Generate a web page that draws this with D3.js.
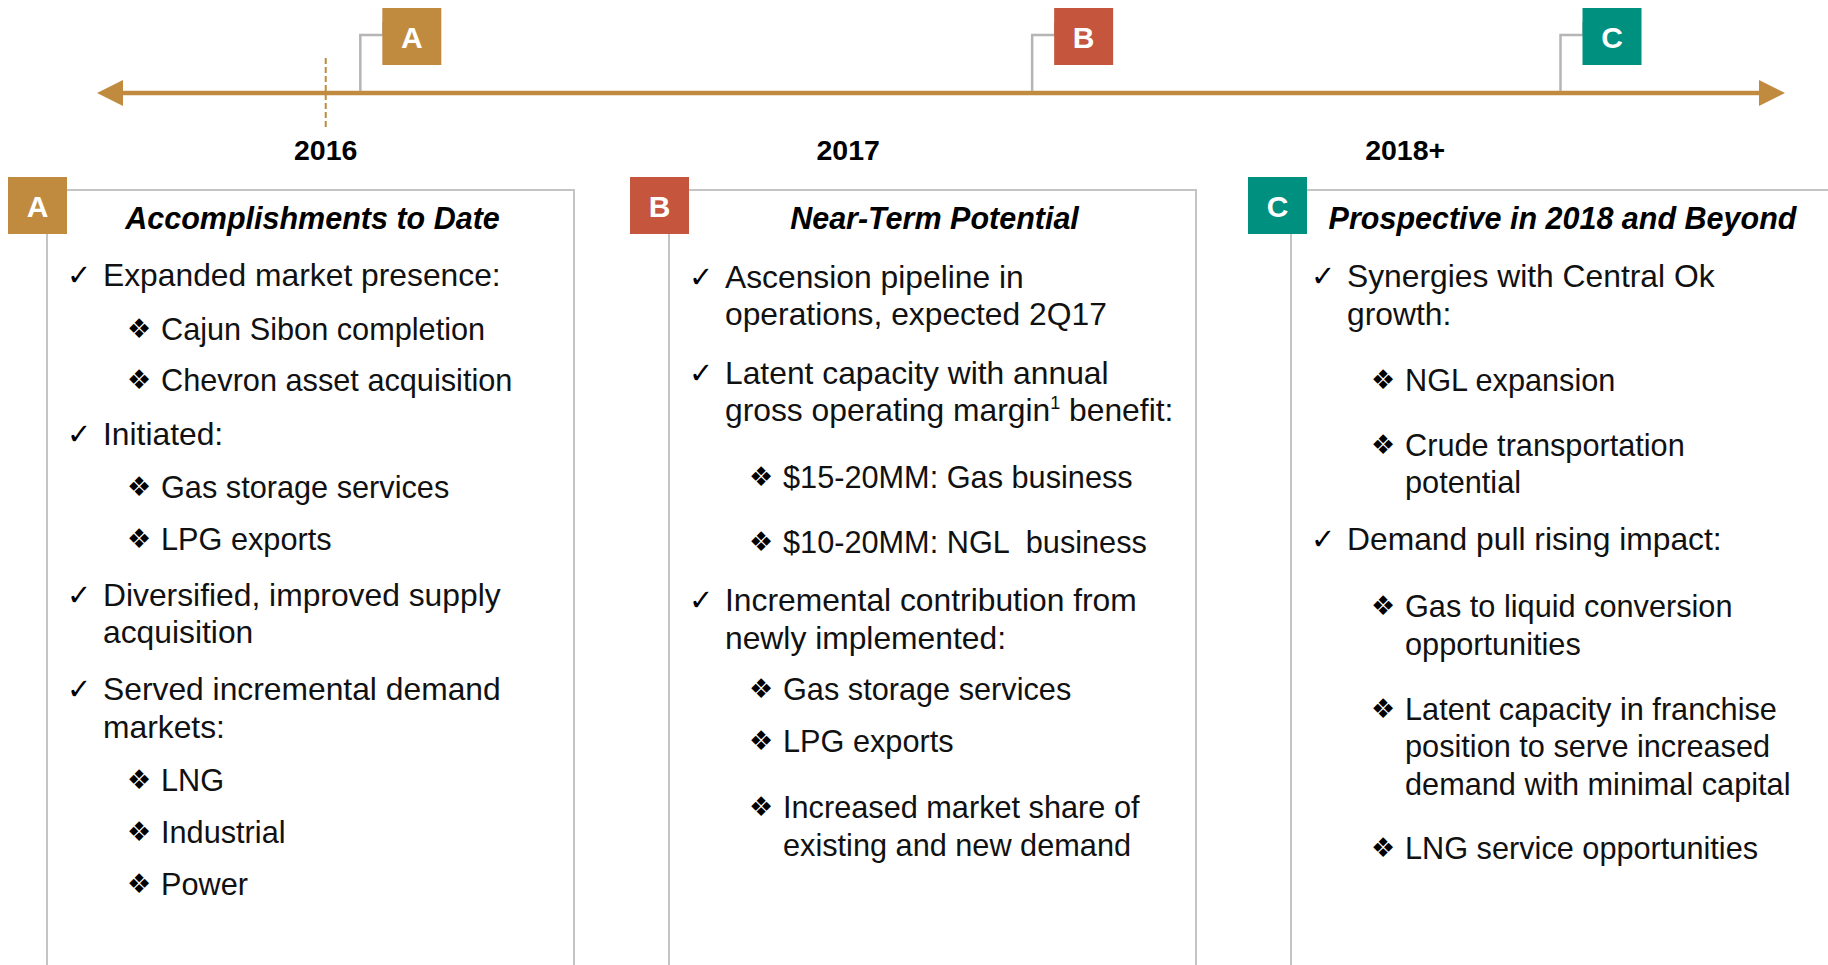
<!DOCTYPE html>
<html>
<head>
<meta charset="utf-8">
<script src="https://cdn.jsdelivr.net/npm/d3@7"></script>
<style>
  body { margin: 0; background: #fff; }
  svg { display: block; }
  text { font-family: "Liberation Sans", Arial, sans-serif; }
</style>
</head>
<body>
<div id="vis"></div>
<script>
// timeline content (positions along the arrow are in % of its length)
const phases = ["A", "B", "C"];
const phaseTitles = ["Accomplishments to Date", "Near-Term Potential", "Prospective in 2018 and Beyond"];
const yearLabels = ["2016", "2017", "2018+"];
const yearAt = [13.55, 44.5, 77.5];
const markerAt = [15.6, 55.4, 86.7];
const todayAt = 13.55;

// panel bullets: level 1 = check, level 2 = diamond; row = line slot in the panel
const itemsA = [
  { level: 1, row: 0, lines: ["Expanded market presence:"] },
  { level: 2, row: 1.44, lines: ["Cajun Sibon completion"] },
  { level: 2, row: 2.8, lines: ["Chevron asset acquisition"] },
  { level: 1, row: 4.24, lines: ["Initiated:"] },
  { level: 2, row: 5.65, lines: ["Gas storage services"] },
  { level: 2, row: 7.04, lines: ["LPG exports"] },
  { level: 1, row: 8.53, lines: ["Diversified, improved supply", "acquisition"] },
  { level: 1, row: 11.04, lines: ["Served incremental demand", "markets:"] },
  { level: 2, row: 13.47, lines: ["LNG"] },
  { level: 2, row: 14.85, lines: ["Industrial"] },
  { level: 2, row: 16.24, lines: ["Power"] }
];
const itemsB = [
  { level: 1, row: 0.05, lines: ["Ascension pipeline in", "operations, expected 2Q17"] },
  { level: 1, row: 2.61, lines: ["Latent capacity with annual", "gross operating margin^1 benefit:"] },
  { level: 2, row: 5.39, lines: ["$15-20MM: Gas business"] },
  { level: 2, row: 7.12, lines: ["$10-20MM: NGL  business"] },
  { level: 1, row: 8.67, lines: ["Incremental contribution from", "newly implemented:"] },
  { level: 2, row: 11.04, lines: ["Gas storage services"] },
  { level: 2, row: 12.43, lines: ["LPG exports"] },
  { level: 2, row: 14.19, lines: ["Increased market share of", "existing and new demand"] }
];
const itemsC = [
  { level: 1, row: 0.03, lines: ["Synergies with Central Ok", "growth:"] },
  { level: 2, row: 2.8, lines: ["NGL expansion"] },
  { level: 2, row: 4.53, lines: ["Crude transportation", "potential"] },
  { level: 1, row: 7.04, lines: ["Demand pull rising impact:"] },
  { level: 2, row: 8.83, lines: ["Gas to liquid conversion", "opportunities"] },
  { level: 2, row: 11.57, lines: ["Latent capacity in franchise", "position to serve increased", "demand with minimal capital"] },
  { level: 2, row: 15.28, lines: ["LNG service opportunities"] }
];
const panelItems = [itemsA, itemsB, itemsC];

const colors = { A: "#C08B3F", B: "#C5553D", C: "#00907F" };
const gold = "#C08B3F";
const grey = "#C4C4C4";

const width = 1828, height = 965;
const svg = d3.select("#vis").append("svg")
  .attr("width", width)
  .attr("height", height)
  .attr("viewBox", `0 0 ${width} ${height}`);

// scales
const x = d3.scaleLinear().domain([0, 100]).range([97, 1785]);
const panelX = d3.scaleBand().domain(phases).range([47, 1818]).paddingInner(95 / 622);
const rowY = d3.scaleLinear().domain([0, 1]).range([286, 323.5]);

// Timeline arrow
const lineY = 93;
svg.append("line")
  .attr("x1", x(0) + 20).attr("x2", x(100) - 20)
  .attr("y1", lineY).attr("y2", lineY)
  .attr("stroke", gold).attr("stroke-width", 4.5);
svg.append("path")
  .attr("d", `M${x(0)},${lineY} L${x(0) + 26},${lineY - 13} L${x(0) + 26},${lineY + 13} Z`)
  .attr("fill", gold);
svg.append("path")
  .attr("d", `M${x(100)},${lineY} L${x(100) - 26},${lineY - 13} L${x(100) - 26},${lineY + 13} Z`)
  .attr("fill", gold);

// today marker
svg.append("line")
  .attr("x1", x(todayAt)).attr("x2", x(todayAt))
  .attr("y1", 58).attr("y2", 127)
  .attr("stroke", gold).attr("stroke-width", 2)
  .attr("stroke-dasharray", "6,3");

// year labels
svg.selectAll(".year")
  .data(yearLabels)
  .join("text")
  .attr("class", "year")
  .attr("x", (d, i) => x(yearAt[i]))
  .attr("y", 160)
  .attr("text-anchor", "middle")
  .style("font-size", "28.5px")
  .style("font-weight", "bold")
  .attr("fill", "#000")
  .text(d => d);

// top markers with elbow connectors
phases.forEach((p, i) => {
  const mx = x(markerAt[i]);
  svg.append("path")
    .attr("d", `M${mx},${lineY - 2} V35 H${mx + 23} V22`)
    .attr("fill", "none")
    .attr("stroke", "#B5B5B5")
    .attr("stroke-width", 2.5);
  svg.append("rect")
    .attr("x", mx + 22).attr("y", 8)
    .attr("width", 59).attr("height", 57)
    .attr("fill", colors[p]);
  svg.append("text")
    .attr("x", mx + 22 + 29.5).attr("y", 48)
    .attr("text-anchor", "middle")
    .attr("fill", "#fff")
    .style("font-size", "30px")
    .style("font-weight", "bold")
    .text(p);
});

// Panels
phases.forEach((p, i) => {
  const left = panelX(p);
  const last = i === phases.length - 1;
  const right = last ? width + 5 : left + panelX.bandwidth();
  const frameTop = 190;
  const g = svg.append("g");

  g.append("path")
    .attr("d", last
      ? `M${left},${height} V${frameTop} H${right}`
      : `M${left},${height} V${frameTop} H${right} V${height}`)
    .attr("fill", "none")
    .attr("stroke", grey)
    .attr("stroke-width", 2);

  const bx = left - (last ? 43 : 39);
  g.append("rect")
    .attr("x", bx).attr("y", 177)
    .attr("width", 59).attr("height", 57)
    .attr("fill", colors[p]);
  g.append("text")
    .attr("x", bx + 29.5).attr("y", 217)
    .attr("text-anchor", "middle")
    .attr("fill", "#fff")
    .style("font-size", "30px")
    .style("font-weight", "bold")
    .text(p);

  g.append("text")
    .attr("x", left + panelX.bandwidth() / 2 + (last ? 8 : 2))
    .attr("y", 229)
    .attr("text-anchor", "middle")
    .style("font-size", "30.5px")
    .style("font-weight", "bold")
    .style("font-style", "italic")
    .attr("fill", "#000")
    .text(phaseTitles[i]);

  panelItems[i].forEach(item => {
    const top = item.level === 1;
    const glyphX = left + (top ? 20 : 80);
    const textX = left + (top ? 56 : 114);
    g.append("text")
      .attr("x", glyphX)
      .attr("y", rowY(item.row) - (top ? 1 : 2))
      .style("font-family", "'DejaVu Sans', sans-serif")
      .style("font-size", top ? "29px" : "27px")
      .attr("fill", "#000")
      .text(top ? "\u2713" : "\u2756");

    item.lines.forEach((line, k) => {
      const t = g.append("text")
        .attr("x", textX)
        .attr("y", rowY(item.row + k))
        .style("font-size", top ? "31.8px" : "30.7px")
        .style("white-space", "pre")
        .attr("fill", "#111");
      const parts = line.split(/\^(\d)/);
      let lift = 0;
      parts.forEach((part, j) => {
        if (j % 2 === 1) {
          t.append("tspan").attr("dy", -12).style("font-size", "18px").text(part);
          lift = 12;
        } else if (part) {
          t.append("tspan").attr("dy", lift).text(part);
          lift = 0;
        }
      });
    });
  });
});
</script>
</body>
</html>
